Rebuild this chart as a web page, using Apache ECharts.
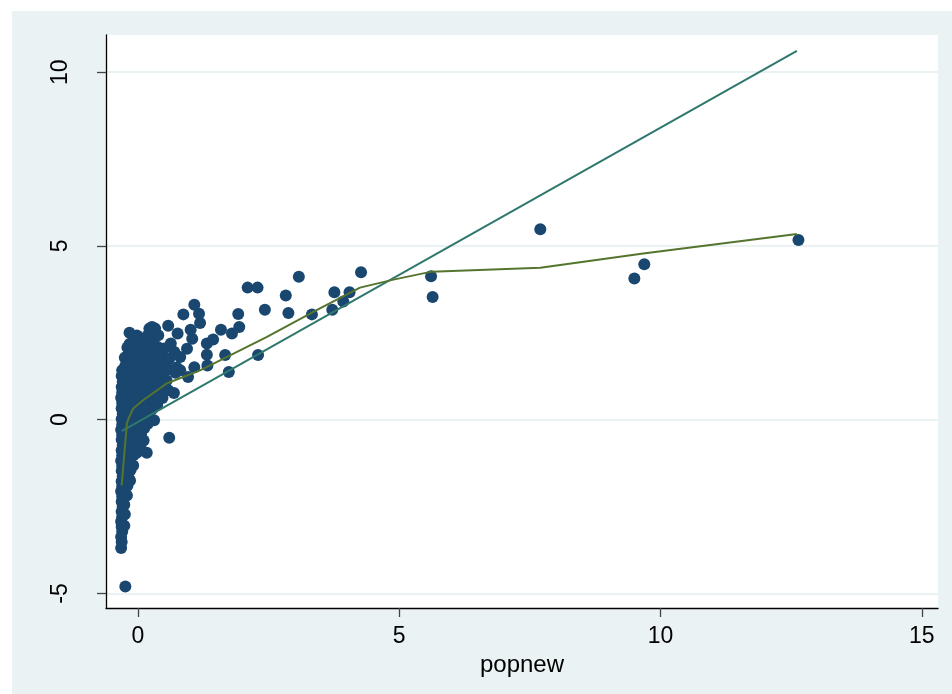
<!DOCTYPE html>
<html>
<head>
<meta charset="utf-8">
<script src="https://cdn.jsdelivr.net/npm/echarts@6/dist/echarts.min.js"></script>
<style>
  html, body { margin: 0; padding: 0; background: #ffffff; }
  #chart { position: absolute; left: 12px; top: 11px; width: 940px; height: 683px; background: #eaf2f3; }
</style>
</head>
<body>
<div id="chart"></div>
<script>
// ---- Data ----
const xAxisTicks = [0, 5, 10, 15];
const yAxisTicks = [-5, 0, 5, 10];
const xAxisTitle = 'popnew';

// scatter observations [popnew, y]
const scatterPoints = [
  [-0.32,-3.69],[-0.31,-3.52],[-0.32,-3.38],[-0.30,-3.22],[-0.31,-3.08],[-0.32,-2.93],[-0.30,-2.80],[-0.31,-2.64],
  [-0.29,-2.50],[-0.31,-2.36],[-0.30,-2.21],[-0.32,-2.06],[-0.30,-1.92],[-0.31,-1.77],[-0.29,-1.63],[-0.31,-1.48],
  [-0.30,-1.33],[-0.32,-1.18],[-0.30,-1.03],[-0.31,-0.88],[-0.29,-0.74],[-0.31,-0.58],[-0.30,-0.44],[-0.32,-0.29],
  [-0.30,-0.14],[-0.31,0.02],[-0.29,0.17],[-0.31,0.33],[-0.30,0.48],[-0.32,0.63],[-0.30,0.79],[-0.31,0.94],
  [-0.29,1.10],[-0.31,1.26],[-0.30,1.42],[-0.24,-4.80],
  [-0.26,-3.05],[-0.25,-2.72],[-0.26,-2.45],[-0.24,-2.18],[-0.25,-1.95],[-0.26,-1.70],[-0.24,-1.46],[-0.25,-1.20],
  [-0.26,-0.96],[-0.24,-0.70],[-0.25,-0.45],[-0.26,-0.20],[-0.24,0.05],[-0.25,0.30],[-0.26,0.56],[-0.24,0.80],
  [-0.25,1.05],[-0.26,1.30],[-0.24,1.55],[-0.25,1.78],
  [-0.21,-2.18],[-0.20,-1.90],[-0.19,-1.62],[-0.21,-1.35],[-0.20,-1.08],[-0.19,-0.82],[-0.21,-0.55],[-0.20,-0.28],
  [-0.19,-0.02],[-0.21,0.25],[-0.20,0.52],[-0.19,0.78],[-0.21,1.04],[-0.20,1.30],[-0.19,1.57],[-0.21,1.82],[-0.20,2.08],
  [-0.15,-1.75],[-0.14,-1.45],[-0.16,-1.18],[-0.15,-0.90],[-0.14,-0.62],[-0.16,-0.34],[-0.15,-0.06],[-0.14,0.22],
  [-0.16,0.50],[-0.15,0.78],[-0.14,1.06],[-0.16,1.34],[-0.15,1.62],[-0.14,1.90],[-0.16,2.18],[-0.16,2.50],
  [-0.09,-1.32],[-0.08,-1.02],[-0.10,-0.74],[-0.09,-0.46],[-0.08,-0.18],[-0.10,0.10],[-0.09,0.38],[-0.08,0.66],
  [-0.10,0.94],[-0.09,1.22],[-0.08,1.50],[-0.10,1.78],[-0.09,2.06],[-0.08,2.32],
  [-0.02,-0.95],[-0.01,-0.62],[-0.03,-0.34],[-0.02,-0.06],[-0.01,0.22],[-0.03,0.50],[-0.02,0.78],[-0.01,1.06],
  [-0.03,1.34],[-0.02,1.62],[-0.01,1.90],[-0.03,2.18],[-0.02,2.42],
  [0.05,-0.72],[0.06,-0.42],[0.04,-0.14],[0.05,0.14],[0.06,0.42],[0.04,0.70],[0.05,0.98],[0.06,1.26],
  [0.04,1.54],[0.05,1.82],[0.06,2.10],[0.04,2.35],
  [0.11,-0.60],[0.12,-0.25],[0.13,0.05],[0.11,0.33],[0.12,0.61],[0.13,0.89],[0.11,1.17],[0.12,1.45],
  [0.13,1.73],[0.11,2.01],[0.12,2.28],[0.17,-0.95],
  [0.19,-0.12],[0.20,0.18],[0.21,0.46],[0.19,0.74],[0.20,1.02],[0.21,1.30],[0.19,1.58],[0.20,1.86],
  [0.21,2.14],[0.19,2.42],[0.22,2.62],
  [0.31,-0.02],[0.27,0.30],[0.28,0.58],[0.29,0.86],[0.27,1.14],[0.28,1.42],[0.29,1.70],[0.27,1.98],
  [0.28,2.26],[0.27,2.67],[0.33,2.62],
  [0.37,0.42],[0.38,0.72],[0.39,1.00],[0.37,1.28],[0.38,1.56],[0.39,1.84],[0.37,2.10],[0.39,2.43],
  [0.47,0.62],[0.48,0.92],[0.49,1.22],[0.47,1.50],[0.48,1.78],[0.50,2.05],
  [0.55,1.13],[0.58,0.85],[0.58,1.45],[0.60,1.75],[0.58,2.70],[0.60,-0.52],[0.63,2.19],
  [0.69,0.77],[0.72,1.35],[0.74,1.50],[0.76,2.48],[0.70,1.95],
  [0.81,1.80],[0.81,1.42],[0.87,3.03],[0.94,2.04],[0.96,1.23],[1.01,2.59],[1.04,2.33],[1.08,3.31],
  [1.08,1.51],[1.17,3.05],[1.19,2.78],[1.32,2.19],[1.32,1.87],[1.33,1.56],[1.44,2.31],[1.59,2.59],
  [1.67,1.86],[1.74,1.37],[1.80,2.48],[1.92,3.04],[1.94,2.67],[2.10,3.80],[2.29,3.80],[2.30,1.86],
  [2.43,3.16],[2.83,3.57],[2.88,3.07],[3.08,4.11],[3.33,3.03],[3.72,3.16],[3.76,3.67],[3.93,3.40],
  [4.05,3.67],[4.27,4.24],[5.61,4.13],[5.64,3.53],[7.70,5.48],[9.50,4.06],[9.69,4.47],[12.64,5.17]
];

// linear fit endpoints [popnew, fitted]
const linearFit = [[-0.31, -0.33], [12.61, 10.61]];

// lowess smooth [popnew, smoothed]
const lowessFit = [
  [-0.31,-1.89],[-0.26,-0.98],[-0.21,-0.12],[-0.18,0.03],[-0.09,0.32],[0.10,0.56],[0.55,1.04],
  [1.19,1.42],[1.83,1.90],[2.47,2.38],[3.42,3.15],[4.25,3.80],[4.89,4.03],[5.62,4.26],
  [7.70,4.37],[9.67,4.78],[12.61,5.34]
];

const FONT = "'Liberation Sans', Arial, sans-serif";
const chart = echarts.init(document.getElementById('chart'), null, { renderer: 'canvas' });

chart.setOption({
  animation: false,
  backgroundColor: '#eaf2f3',
  grid: {
    left: 94, right: 14, top: 24, bottom: 86,
    show: true, backgroundColor: '#ffffff', borderWidth: 0
  },
  xAxis: {
    type: 'value',
    min: -0.61, max: 15.31,
    name: xAxisTitle,
    nameLocation: 'middle',
    nameGap: 43,
    nameTextStyle: { fontSize: 24, color: '#000', fontFamily: FONT },
    axisLine: { show: true, onZero: false, lineStyle: { color: '#000', width: 1.3 } },
    axisTick: { show: true, customValues: xAxisTicks, length: 9, lineStyle: { color: '#444', width: 1.3 } },
    axisLabel: { customValues: xAxisTicks, fontSize: 23, color: '#000', margin: 17, fontFamily: FONT },
    splitLine: { show: false }
  },
  yAxis: {
    type: 'value',
    min: -5.42, max: 11.07,
    axisLine: { show: true, onZero: false, lineStyle: { color: '#000', width: 1.3 } },
    axisTick: { show: true, customValues: yAxisTicks, length: 9, lineStyle: { color: '#444', width: 1.3 } },
    axisLabel: { customValues: yAxisTicks, rotate: 90, fontSize: 23, color: '#000', margin: 34, fontFamily: FONT },
    splitLine: { show: true, lineStyle: { color: '#eaf2f3', width: 2 } }
  },
  series: [
    {
      type: 'scatter',
      data: scatterPoints,
      symbol: 'circle',
      symbolSize: 12,
      itemStyle: { color: '#1a476f', opacity: 1 },
      z: 2
    },
    {
      type: 'line',
      data: linearFit,
      showSymbol: false,
      symbol: 'none',
      lineStyle: { color: '#2e786c', width: 2 },
      z: 3
    },
    {
      type: 'line',
      data: lowessFit,
      showSymbol: false,
      symbol: 'none',
      lineStyle: { color: '#55752f', width: 2 },
      z: 4
    }
  ]
});
</script>
</body>
</html>
